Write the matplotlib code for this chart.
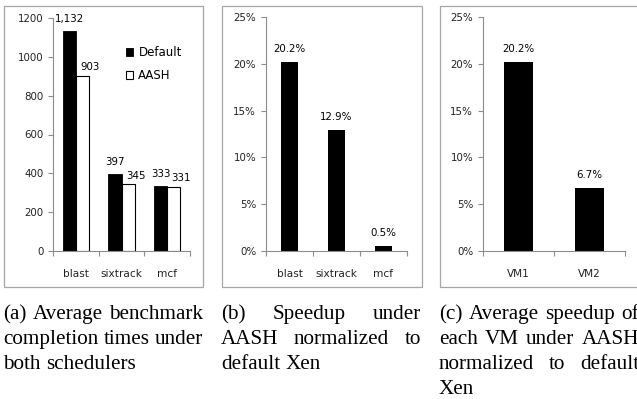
import matplotlib
matplotlib.use('Agg')
import matplotlib.pyplot as plt
from matplotlib.patches import Patch, Rectangle

W, H = 637, 399

# data
bench = ['blast', 'sixtrack', 'mcf']
time_default = [1132, 397, 333]
time_aash = [903, 345, 331]
speedup_bench = [20.2, 12.9, 0.5]
vms = ['VM1', 'VM2']
speedup_vm = [20.2, 6.7]

captions = [
    ['(a) Average benchmark', 'completion times under', 'both schedulers'],
    ['(b) Speedup under', 'AASH normalized to', 'default Xen'],
    ['(c) Average speedup of', 'each VM under AASH', 'normalized to default', 'Xen'],
]

SPINE = '#8c8c8c'
SMALL = 7.4


def px_axes(fig, left, right, top, bottom):
    return fig.add_axes([left / W, 1 - bottom / H, (right - left) / W, (bottom - top) / H])


def style_axes(ax, n):
    for s in ['top', 'right']:
        ax.spines[s].set_visible(False)
    for s in ['left', 'bottom']:
        ax.spines[s].set_color(SPINE)
        ax.spines[s].set_linewidth(0.8)
    ax.set_xlim(-0.5, n - 0.5)
    ax.set_xticks([i - 0.5 for i in range(n + 1)])
    ax.set_xticklabels([])
    ax.tick_params(axis='x', which='major', length=3.5, color=SPINE, direction='out')
    ax.tick_params(axis='y', length=3.5, color=SPINE, labelsize=SMALL, pad=3.5,
                   labelcolor='#222222')


def set_cats(ax, cats):
    ax.set_xticks(range(len(cats)), minor=True)
    ax.set_xticklabels(cats, minor=True, fontsize=SMALL + 0.2, color='#222222')
    ax.tick_params(axis='x', which='minor', length=0, pad=13)


def draw_box(fig, left, right, top, bottom):
    fig.patches.append(Rectangle((left / W, 1 - bottom / H), (right - left) / W,
                                 (bottom - top) / H, transform=fig.transFigure,
                                 fill=False, edgecolor='#a6a6a6', linewidth=0.9))


def justify(fig, lines, x0, width, y0, dy, size):
    # caption lines justified like the paper's two-column text
    renderer = fig.canvas.get_renderer()
    for i, line in enumerate(lines):
        words = line.split()
        texts = [fig.text(0, 0, w, fontsize=size, family='Liberation Serif',
                          va='baseline', ha='left') for w in words]
        widths = [t.get_window_extent(renderer).width for t in texts]
        if i == len(lines) - 1 or len(words) == 1:
            gap = 0.25 * size * 100 / 72
        else:
            gap = (width - sum(widths)) / (len(words) - 1)
        x = x0
        y = y0 + i * dy
        for t, w in zip(texts, widths):
            t.set_position((x / W, 1 - y / H))
            x += w + gap


fig = plt.figure(figsize=(W / 100, H / 100), dpi=100)
fig.patch.set_facecolor('white')

draw_box(fig, 4, 203, 6, 287)
draw_box(fig, 222, 422, 6, 287)
draw_box(fig, 440, 648, 6, 287)

# (a) completion times
ax1 = px_axes(fig, 53, 190, 18, 251)
style_axes(ax1, len(bench))
set_cats(ax1, bench)
xs = range(len(bench))
bw = 0.285
b1 = ax1.bar([x - bw / 2 for x in xs], time_default, bw, color='black',
             edgecolor='black', linewidth=0.6, label='Default')
b2 = ax1.bar([x + bw / 2 for x in xs], time_aash, bw, color='white',
             edgecolor='black', linewidth=0.8, label='AASH')
ax1.set_ylim(0, 1200)
ax1.set_yticks(range(0, 1201, 200))
for r, v in zip(b1, time_default):
    ax1.annotate(f'{v:,}', (r.get_x() + r.get_width() / 2, v), xytext=(0, 5),
                 textcoords='offset points', ha='center', va='bottom',
                 fontsize=SMALL, annotation_clip=False)
for r, v in zip(b2, time_aash):
    ax1.annotate(f'{v:,}', (r.get_x() + r.get_width() / 2, v), xytext=(5.5, 2.5),
                 textcoords='offset points', ha='center', va='bottom',
                 fontsize=SMALL, annotation_clip=False)
fig.legend(handles=[Patch(facecolor='black', edgecolor='black', linewidth=0.6),
                    Patch(facecolor='white', edgecolor='black', linewidth=0.8)],
           labels=['Default', 'AASH'], loc='upper left',
           bbox_to_anchor=(126 / W, 1 - 46 / H), frameon=False, fontsize=8.5,
           handlelength=0.6, handleheight=0.6, handletextpad=0.45,
           labelspacing=0.85, borderpad=0, borderaxespad=0)

# (b) speedup per benchmark
ax2 = px_axes(fig, 266, 407, 17, 251)
style_axes(ax2, len(bench))
set_cats(ax2, bench)
bars = ax2.bar(range(len(bench)), speedup_bench, 0.36, color='black')
ax2.set_ylim(0, 25)
ax2.set_yticks(range(0, 26, 5))
ax2.set_yticklabels([f'{t}%' for t in range(0, 26, 5)])
for r, v in zip(bars, speedup_bench):
    ax2.annotate(f'{v:.1f}%', (r.get_x() + r.get_width() / 2, v), xytext=(0, 6),
                 textcoords='offset points', ha='center', va='bottom', fontsize=SMALL)

# (c) speedup per VM
ax3 = px_axes(fig, 483, 625, 17, 251)
style_axes(ax3, len(vms))
set_cats(ax3, vms)
bars = ax3.bar(range(len(vms)), speedup_vm, 0.41, color='black')
ax3.set_ylim(0, 25)
ax3.set_yticks(range(0, 26, 5))
ax3.set_yticklabels([f'{t}%' for t in range(0, 26, 5)])
for r, v in zip(bars, speedup_vm):
    ax3.annotate(f'{v:.1f}%', (r.get_x() + r.get_width() / 2, v), xytext=(0, 6),
                 textcoords='offset points', ha='center', va='bottom', fontsize=SMALL)

# captions
for lines, x0 in zip(captions, [3, 221, 439]):
    justify(fig, lines, x0, 200, 319, 25, 15.2)

fig.savefig('out.png', dpi=100, facecolor='white')
